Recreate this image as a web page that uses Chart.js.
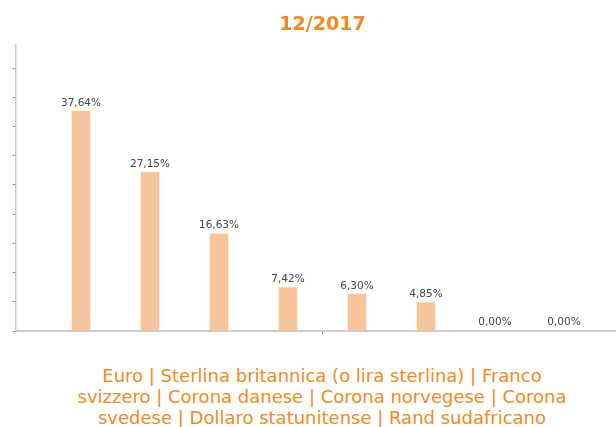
<!DOCTYPE html>
<html lang="it">
<head>
<meta charset="UTF-8" />
<title>12/2017</title>
<script src="https://cdn.jsdelivr.net/npm/chart.js"></script>
<style>
  body {
    margin: 0;
    background: #fff;
    font-family: "DejaVu Sans", Verdana, sans-serif;
  }
  .wrap {
    position: relative;
    width: 616px;
    height: 427px;
    overflow: hidden;
  }
  #chart {
    position: absolute;
    left: 0;
    top: 0;
  }
  .legend {
    position: absolute;
    top: 365px;
    left: 72px;
    width: 500px;
    text-align: center;
    font-size: 18px;
    line-height: 21px;
    color: #f08a24;
  }
</style>
</head>
<body>
<div class="wrap">
  <canvas id="chart" width="629" height="345"></canvas>
  <div class="legend" id="legend"></div>
</div>

<script>
  const title = "12/2017";
  const categories = [
    "Euro",
    "Sterlina britannica (o lira sterlina)",
    "Franco svizzero",
    "Corona danese",
    "Corona norvegese",
    "Corona svedese",
    "Dollaro statunitense",
    "Rand sudafricano"
  ];
  const shares = [37.64, 27.15, 16.63, 7.42, 6.30, 4.85, 0.00, 0.00];

  document.getElementById("legend").textContent = categories.join(" | ");

  const fmt = (v) => v.toFixed(2).replace(".", ",") + "%";

  // value labels above each bar
  const barLabels = {
    id: "barLabels",
    afterDatasetsDraw(chart) {
      const ctx = chart.ctx;
      const meta = chart.getDatasetMeta(0);
      ctx.save();
      ctx.font = "10.5px 'DejaVu Sans'";
      ctx.fillStyle = "#444";
      ctx.textAlign = "center";
      ctx.textBaseline = "bottom";
      meta.data.forEach((bar, i) => {
        ctx.fillText(fmt(shares[i]), bar.x, bar.y - 3);
      });
      ctx.restore();
    }
  };

  new Chart(document.getElementById("chart"), {
    type: "bar",
    data: {
      datasets: [
        {
          data: shares.map((v, i) => ({ x: i, y: v })),
          backgroundColor: "#f6c59b",
          borderWidth: 0,
          barThickness: 18
        }
      ]
    },
    options: {
      responsive: false,
      animation: false,
      layout: { padding: { left: 13, right: 0, top: 0, bottom: 11 } },
      plugins: {
        legend: { display: false },
        tooltip: { enabled: false },
        title: {
          display: true,
          text: title,
          fullSize: false,
          color: "#f08a24",
          font: { family: "DejaVu Sans", size: 19, weight: "bold" },
          padding: { top: 14, bottom: 8 }
        }
      },
      scales: {
        x: {
          type: "linear",
          offset: false,
          min: -0.942,
          max: 7.942,
          afterBuildTicks: (axis) => {
            axis.ticks = [{ value: 3.5 }];
          },
          ticks: { display: false },
          grid: {
            offset: false,
            drawOnChartArea: false,
            drawTicks: true,
            tickLength: 3,
            tickColor: "#888"
          },
          border: { color: "#cccccc", width: 2 }
        },
        y: {
          min: 0,
          max: 49,
          afterBuildTicks: (axis) => {
            const t = [];
            for (let v = 0; v <= 45; v += 5) t.push({ value: v });
            axis.ticks = t;
          },
          ticks: { display: false },
          grid: {
            drawOnChartArea: false,
            drawTicks: true,
            tickLength: 3,
            tickColor: "#777"
          },
          border: { color: "#cccccc", width: 1.5 }
        }
      }
    },
    plugins: [barLabels]
  });
</script>
</body>
</html>
